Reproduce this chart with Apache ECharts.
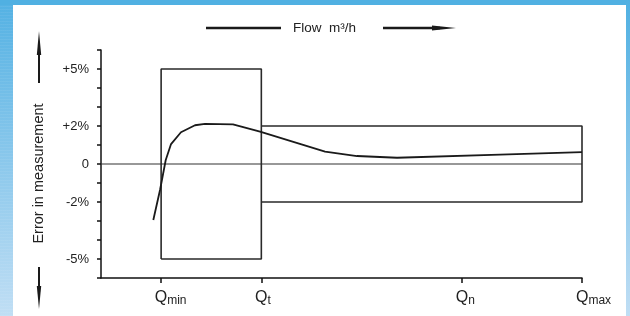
<!DOCTYPE html>
<html>
<head>
<meta charset="utf-8">
<script src="https://cdn.jsdelivr.net/npm/echarts@6/dist/echarts.min.js"></script>
<style>
  html, body { margin: 0; padding: 0; width: 630px; height: 316px; overflow: hidden; background: #fff; }
  #left { position: absolute; left: 0; top: 0; width: 13px; height: 316px;
    background: repeating-linear-gradient(to bottom, rgba(255,255,255,0.06) 0 1px, rgba(255,255,255,0) 1px 3px),
                linear-gradient(to bottom, #53b1e3, #c0def4); }
  #top { position: absolute; left: 0; top: 0; width: 630px; height: 5px; background: #50b0e2; }
  #right { position: absolute; left: 626px; top: 0; width: 4px; height: 316px;
    background: linear-gradient(to bottom, #50b0e2, #c0def4); }
  #chart { position: absolute; left: 0; top: 0; width: 630px; height: 316px; }
</style>
</head>
<body>
<div id="left"></div><div id="top"></div><div id="right"></div>
<div id="chart"></div>
<script>
// ---- data ----
const xTickValues = [6, 16, 36, 48];          // Qmin, Qt, Qn, Qmax positions on flow axis
const xTickSubs = ['min', 't', 'n', 'max'];
const yTickLabelValues = [-5, -2, 0, 2, 5];
const yTickLabels = ['-5%', '-2%', '0', '+2%', '+5%'];

// error curve (flow, error %)
const curveX = [5.22, 5.89, 6.46, 6.99, 7.98, 9.38, 10.38, 13.17, 15.87, 22.36, 25.55, 29.54, 39.82, 48];
const curveY = [-2.95, -1.37, 0.21, 1.05, 1.67, 2.04, 2.11, 2.09, 1.70, 0.65, 0.42, 0.33, 0.49, 0.62];

// tolerance envelope
const lowBoxX = [6, 6, 16, 16, 6];
const lowBoxY = [-5, 5, 5, -5, -5];
const highBandX = [16, 48, 48, 16];
const highBandY = [2, 2, -2, -2];
const zeroLineX = [0, 48];
const zeroLineY = [0, 0];

const pair = (xs, ys) => xs.map((x, i) => [x, ys[i]]);

const font = '"Liberation Sans", Arial, sans-serif';
const subSize = 12;
// measure subscript widths so the big "Q" stays centred on its tick
const ctx = document.createElement('canvas').getContext('2d');
ctx.font = subSize + 'px ' + font;
const rich = {
  q: { fontSize: 16, lineHeight: 18, color: '#222', fontFamily: font },
  s: { fontSize: subSize, lineHeight: 12, verticalAlign: 'bottom', color: '#222', fontFamily: font }
};
xTickSubs.forEach((s, i) => {
  rich['p' + i] = { width: Math.round(ctx.measureText(s).width), fontSize: subSize, lineHeight: 12 };
});

const chart = echarts.init(document.getElementById('chart'), null, { renderer: 'canvas' });
const lineCommon = { type: 'line', symbol: 'none', silent: true, animation: false };

chart.setOption({
  animation: false,
  grid: { left: 101, right: 48, top: 50, bottom: 38 },
  xAxis: {
    type: 'value', min: 0, max: 48,
    axisLine: { onZero: false, lineStyle: { color: '#111', width: 1.5 } },
    axisTick: { customValues: xTickValues, length: 5, lineStyle: { color: '#111', width: 1.5 } },
    splitLine: { show: false },
    axisLabel: {
      customValues: xTickValues, margin: 11, color: '#222', fontFamily: font,
      formatter: v => {
        const i = xTickValues.indexOf(v);
        if (i < 0) return '';
        return '{p' + i + '| }{q|Q}{s|' + xTickSubs[i] + '}';
      },
      rich: rich
    }
  },
  yAxis: {
    type: 'value', min: -6, max: 6, interval: 1,
    axisLine: { show: true, onZero: false, lineStyle: { color: '#111', width: 1.5 } },
    axisTick: { show: true, length: 4, lineStyle: { color: '#111', width: 1.5 } },
    splitLine: { show: false },
    axisLabel: {
      customValues: yTickLabelValues, margin: 12, fontSize: 13, color: '#222', fontFamily: font,
      formatter: v => { const i = yTickLabelValues.indexOf(v); return i >= 0 ? yTickLabels[i] : ''; }
    }
  },
  series: [
    Object.assign({}, lineCommon, { name: 'zero', data: pair(zeroLineX, zeroLineY), lineStyle: { color: '#333', width: 1.2 } }),
    Object.assign({}, lineCommon, { name: 'lowBox', data: pair(lowBoxX, lowBoxY), lineStyle: { color: '#2a2a2a', width: 1.6 } }),
    Object.assign({}, lineCommon, { name: 'highBand', data: pair(highBandX, highBandY), lineStyle: { color: '#2a2a2a', width: 1.6 } }),
    Object.assign({}, lineCommon, { name: 'curve', data: pair(curveX, curveY), lineStyle: { color: '#1a1a1a', width: 1.8 } })
  ],
  graphic: [
    { type: 'line', shape: { x1: 206, y1: 28, x2: 281, y2: 28 }, style: { stroke: '#1a1a1a', lineWidth: 2.5 } },
    { type: 'text', x: 293, y: 28, style: { text: 'Flow  m³/h', font: '13.5px ' + font, fill: '#222', textAlign: 'left', textVerticalAlign: 'middle' } },
    { type: 'line', shape: { x1: 383, y1: 28, x2: 440, y2: 28 }, style: { stroke: '#1a1a1a', lineWidth: 2.5 } },
    { type: 'polygon', shape: { points: [[432, 25.5], [456, 28], [432, 30.5]] }, style: { fill: '#1a1a1a' } },
    // vertical arrows
    { type: 'line', shape: { x1: 39, y1: 45, x2: 39, y2: 83 }, style: { stroke: '#1a1a1a', lineWidth: 2 } },
    { type: 'polygon', shape: { points: [[36.8, 55], [39, 31], [41.2, 55]] }, style: { fill: '#1a1a1a' } },
    { type: 'line', shape: { x1: 39, y1: 267, x2: 39, y2: 295 }, style: { stroke: '#1a1a1a', lineWidth: 2 } },
    { type: 'polygon', shape: { points: [[36.8, 286], [39, 309], [41.2, 286]] }, style: { fill: '#1a1a1a' } },
    { type: 'text', x: 39, y: 173.5, rotation: Math.PI / 2,
      style: { text: 'Error in measurement', font: '14.5px ' + font, fill: '#222', textAlign: 'center', textVerticalAlign: 'middle' } }
  ]
});
</script>
</body>
</html>
